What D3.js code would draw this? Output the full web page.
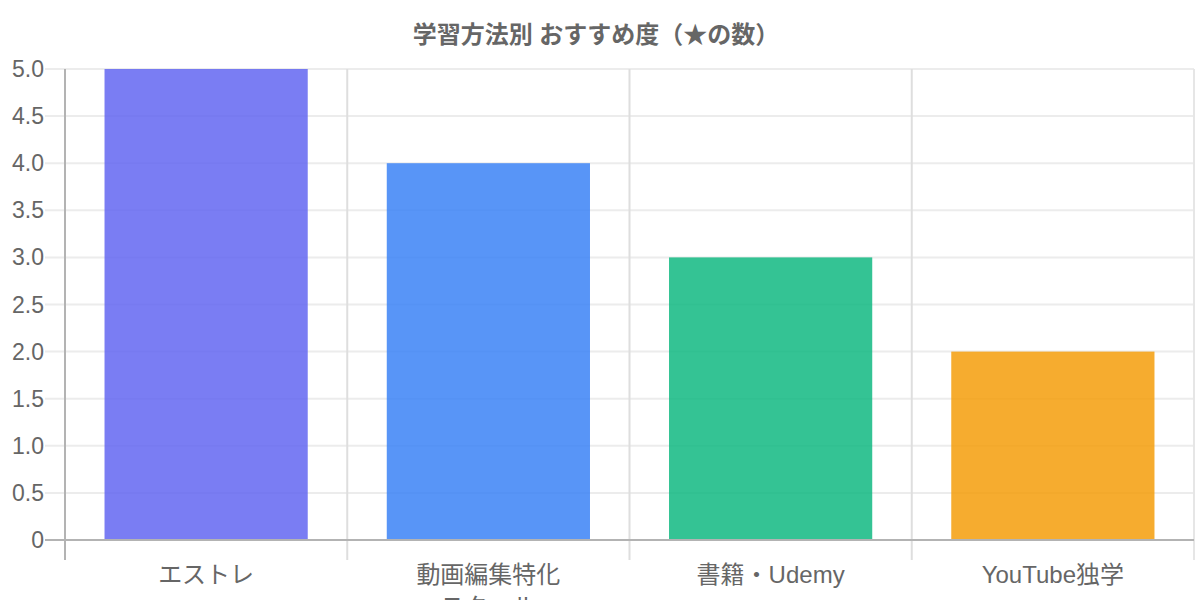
<!DOCTYPE html>
<html>
<head>
<meta charset="utf-8">
<script src="https://cdn.jsdelivr.net/npm/d3@7"></script>
<style>
  body { margin: 0; background: #fff; }
  text { font-family: "Liberation Sans", Arial, "Noto Sans CJK JP", sans-serif; }
</style>
</head>
<body>
<div id="chart"></div>
<script>
// chart data
var categories = ["エストレ", "動画編集特化スクール", "書籍・Udemy", "YouTube独学"];
var labelLines = [["エストレ"], ["動画編集特化", "スクール"], ["書籍・Udemy"], ["YouTube独学"]];
var stars = [5, 4, 3, 2];
var barColors = ["#6366f1", "#3b82f6", "#10b981", "#f59e0b"];
var yTicks = [0, 0.5, 1, 1.5, 2, 2.5, 3, 3.5, 4, 4.5, 5];

var svgWidth = 1200;
var svgHeight = 600;
var margin = {top: 69, right: 6, bottom: 60, left: 65};
var width = svgWidth - margin.left - margin.right;
var height = svgHeight - margin.top - margin.bottom;

var svg = d3.select("#chart")
    .append("svg")
    .attr("width", svgWidth)
    .attr("height", svgHeight);

// title
svg.append("text")
    .attr("x", svgWidth / 2 - 4)
    .attr("y", 43)
    .attr("text-anchor", "middle")
    .style("font-size", "24px")
    .style("font-weight", "bold")
    .style("fill", "#666")
    .text("学習方法別 おすすめ度（★の数）");

var chartGroup = svg.append("g")
    .attr("transform", `translate(${margin.left}, ${margin.top})`);

var xScale = d3.scaleBand()
    .domain(categories)
    .range([0, width]);

var yScale = d3.scaleLinear()
    .domain([0, 5])
    .range([height, 0]);

// horizontal grid
chartGroup.selectAll(".hgrid")
    .data(yTicks)
    .enter()
    .append("line")
    .attr("x1", -20)
    .attr("x2", width)
    .attr("y1", d => yScale(d))
    .attr("y2", d => yScale(d))
    .attr("stroke", "#ececec")
    .attr("stroke-width", 2);

// vertical grid at category boundaries
var bounds = categories.map(c => xScale(c)).concat([width]);
chartGroup.selectAll(".vgrid")
    .data(bounds)
    .enter()
    .append("line")
    .attr("x1", d => d)
    .attr("x2", d => d)
    .attr("y1", 0)
    .attr("y2", height + 20)
    .attr("stroke", (d, i) => i == bounds.length - 1 ? "#e6e6e6" : "#dedede")
    .attr("stroke-width", 2);

// bars
var barPad = xScale.bandwidth() * 0.14;
chartGroup.selectAll("rect")
    .data(stars)
    .enter()
    .append("rect")
    .attr("x", (d, i) => xScale(categories[i]) + barPad)
    .attr("width", xScale.bandwidth() - 2 * barPad)
    .attr("y", d => yScale(d))
    .attr("height", d => height - yScale(d))
    .attr("fill", (d, i) => barColors[i])
    .attr("fill-opacity", 0.85);

// axes lines
chartGroup.append("line")
    .attr("x1", 0).attr("x2", 0)
    .attr("y1", 0).attr("y2", height + 20)
    .attr("stroke", "#b3b3b3")
    .attr("stroke-width", 2);
chartGroup.append("line")
    .attr("x1", -20).attr("x2", width)
    .attr("y1", height).attr("y2", height)
    .attr("stroke", "#b3b3b3")
    .attr("stroke-width", 2);

// y tick labels
chartGroup.selectAll(".ylab")
    .data(yTicks)
    .enter()
    .append("text")
    .attr("x", -21)
    .attr("y", d => yScale(d))
    .attr("dy", "0.35em")
    .attr("text-anchor", "end")
    .style("font-size", "23px")
    .style("fill", "#666")
    .text(d => d == 0 ? "0" : d.toFixed(1));

// x tick labels
var xLabels = chartGroup.selectAll(".xlab")
    .data(labelLines)
    .enter()
    .append("text")
    .attr("x", (d, i) => xScale(categories[i]) + xScale.bandwidth() / 2)
    .attr("y", height + 43)
    .attr("text-anchor", "middle")
    .style("font-size", "24px")
    .style("fill", "#666");

xLabels.selectAll("tspan")
    .data(d => d)
    .enter()
    .append("tspan")
    .attr("x", function() { return d3.select(this.parentNode).attr("x"); })
    .attr("dy", (d, i) => i == 0 ? 0 : 32)
    .text(d => d);
</script>
</body>
</html>
